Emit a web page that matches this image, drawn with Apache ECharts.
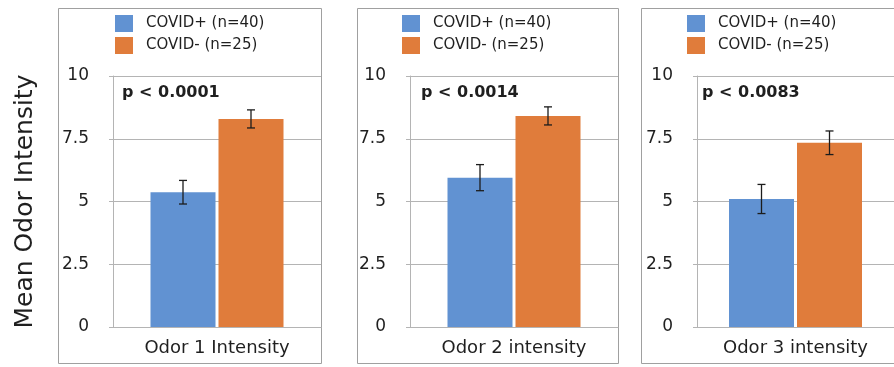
<!DOCTYPE html>
<html>
<head>
<meta charset="utf-8">
<script src="https://cdn.jsdelivr.net/npm/echarts@6/dist/echarts.min.js"></script>
<style>html,body{margin:0;padding:0;background:#fff;}#chart{width:894px;height:367px;}</style>
</head>
<body>
<div id="chart"></div>
<script>
// ---- data ----
const categories = ['Odor 1 Intensity', 'Odor 2 intensity', 'Odor 3 intensity'];
const seriesNames = ['COVID+ (n=40)', 'COVID- (n=25)'];
const covidPos = [5.37, 5.95, 5.10];
const covidNeg = [8.29, 8.41, 7.34];
const covidPosErr = [0.47, 0.52, 0.58];
const covidNegErr = [0.36, 0.36, 0.47];
const pLabels = ['p < 0.0001', 'p < 0.0014', 'p < 0.0083'];
const yTitle = 'Mean Odor Intensity';

// ---- layout / style ----
const FONT = 'DejaVu Sans';
const TXT = '#1f1f1f';
const GRIDC = '#b4b4b4';
const BLUE = '#6192d2';
const ORANGE = '#e07c3b';
const barW = 65;
const barGapPx = 3;
const panels = [
  {box: [58, 8, 263, 355], grid: {left: 113, top: 76, width: 208, height: 251}, legend: [110, 10], p: [122, 93]},
  {box: [357, 8, 261, 355], grid: {left: 410, top: 76, width: 208, height: 251}, legend: [397, 10], p: [421, 93]},
  {box: [641, 8, 262, 355], grid: {left: 697, top: 76, width: 206, height: 251}, legend: [682, 10], p: [702, 93]}
];

const grid = [], xAxis = [], yAxis = [], series = [], legend = [], graphic = [];

panels.forEach((pn, i) => {
  grid.push(Object.assign({containLabel: false}, pn.grid));
  xAxis.push({
    type: 'category', gridIndex: i, data: [categories[i]],
    axisLine: {lineStyle: {color: GRIDC, width: 1}},
    axisTick: {show: false},
    axisLabel: {color: TXT, fontFamily: FONT, fontSize: 18, margin: 12}
  });
  yAxis.push({
    type: 'value', gridIndex: i, min: 0, max: 10, interval: 2.5,
    name: i === 0 ? yTitle : '',
    nameLocation: 'middle', nameGap: 75, nameRotate: 90,
    nameTextStyle: {color: TXT, fontFamily: FONT, fontSize: 25},
    axisLine: {show: true, lineStyle: {color: GRIDC, width: 1}},
    axisTick: {show: true, length: 4, lineStyle: {color: GRIDC}},
    axisLabel: {color: TXT, fontFamily: FONT, fontSize: 17, margin: 24},
    splitLine: {show: true, lineStyle: {color: GRIDC, width: 1}}
  });
  series.push({
    name: seriesNames[0], type: 'bar', xAxisIndex: i, yAxisIndex: i,
    data: [covidPos[i]], barWidth: barW, barGap: (barGapPx / barW * 100) + '%',
    itemStyle: {color: BLUE}
  });
  series.push({
    name: seriesNames[1], type: 'bar', xAxisIndex: i, yAxisIndex: i,
    data: [covidNeg[i]], barWidth: barW,
    itemStyle: {color: ORANGE}
  });
  series.push({
    type: 'custom', xAxisIndex: i, yAxisIndex: i, z: 10, silent: true,
    data: [
      [0, covidPos[i] - covidPosErr[i], covidPos[i] + covidPosErr[i], -1],
      [0, covidNeg[i] - covidNegErr[i], covidNeg[i] + covidNegErr[i], 1]
    ],
    renderItem: function (params, api) {
      const side = api.value(3);
      const lo = api.coord([api.value(0), api.value(1)]);
      const hi = api.coord([api.value(0), api.value(2)]);
      const x = lo[0] + side * (barW / 2 + barGapPx / 2);
      const cap = 4;
      const st = {stroke: '#1c1c1c', lineWidth: 1.3};
      return {
        type: 'group',
        children: [
          {type: 'line', shape: {x1: x, y1: lo[1], x2: x, y2: hi[1]}, style: st},
          {type: 'line', shape: {x1: x - cap, y1: lo[1], x2: x + cap, y2: lo[1]}, style: st},
          {type: 'line', shape: {x1: x - cap, y1: hi[1], x2: x + cap, y2: hi[1]}, style: st}
        ]
      };
    }
  });
  legend.push({
    left: pn.legend[0], top: pn.legend[1], orient: 'vertical',
    itemWidth: 18, itemHeight: 17, itemGap: 5, icon: 'rect',
    data: seriesNames, selectedMode: false,
    textStyle: {color: TXT, fontFamily: FONT, fontSize: 15, padding: [0, 0, 0, 8]}
  });
  graphic.push({
    type: 'rect', z: -1, silent: true,
    shape: {x: pn.box[0] + 0.5, y: pn.box[1] + 0.5, width: pn.box[2], height: pn.box[3]},
    style: {fill: 'none', stroke: '#a0a0a0', lineWidth: 1}
  });
  graphic.push({
    type: 'text', silent: true, x: pn.p[0], y: pn.p[1],
    style: {text: pLabels[i], fill: TXT, font: 'bold 16px "' + FONT + '"', verticalAlign: 'middle'}
  });
});

const chart = echarts.init(document.getElementById('chart'), null, {renderer: 'canvas'});
chart.setOption({
  animation: false,
  backgroundColor: '#fff',
  grid, xAxis, yAxis, series, legend, graphic
});
</script>
</body>
</html>
